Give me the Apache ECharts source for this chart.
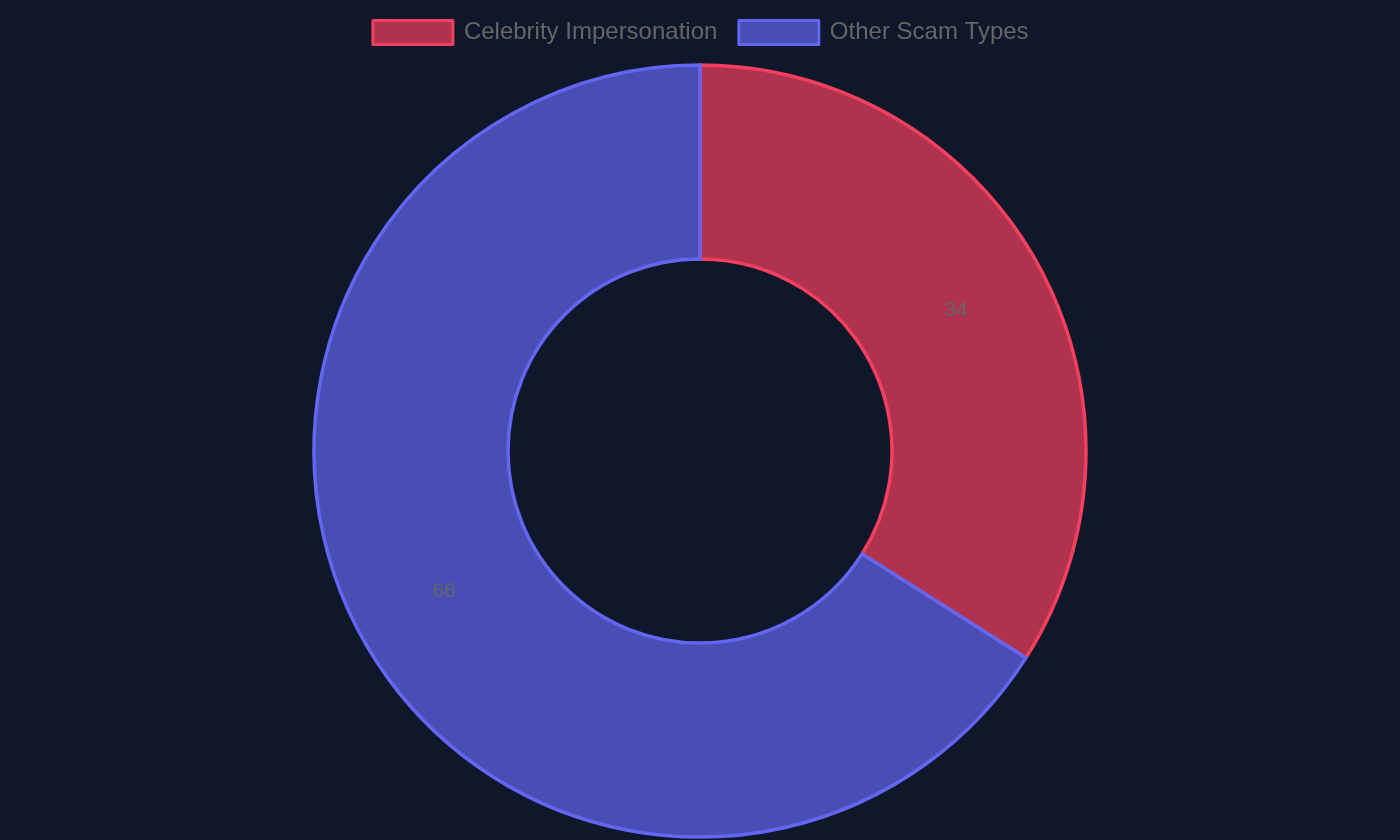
<!DOCTYPE html>
<html>
<head>
<meta charset="utf-8">
<script src="https://cdn.jsdelivr.net/npm/echarts@6/dist/echarts.min.js"></script>
<style>
html,body{margin:0;padding:0;background:#0f172a;}
#chart{width:1400px;height:840px;}
</style>
</head>
<body>
<div id="chart"></div>
<script>
const categories = ["Celebrity Impersonation", "Other Scam Types"];
const values = [34, 66];
const borderColors = ["#f43f5e", "#6366f1"];
const fillColors = ["rgba(244,63,94,0.7)", "rgba(99,102,241,0.7)"];

const chart = echarts.init(document.getElementById('chart'));
chart.setOption({
  backgroundColor: '#0f172a',
  animation: false,
  legend: {
    top: 14,
    left: 'center',
    itemWidth: 80,
    itemHeight: 24,
    itemGap: 20,
    icon: 'rect',
    textStyle: { color: '#666', fontSize: 24, fontFamily: 'Liberation Sans, Arial, sans-serif', padding: [0, 0, 0, 6] },
    data: categories.map((c, i) => ({
      name: c,
      itemStyle: { color: fillColors[i], borderColor: borderColors[i], borderWidth: 3 }
    }))
  },
  series: [{
    type: 'pie',
    center: [700, 451],
    radius: [192, 386],
    startAngle: 90,
    clockwise: true,
    avoidLabelOverlap: false,
    label: {
      show: true,
      position: 'inside',
      color: '#666',
      fontSize: 21,
      fontFamily: 'Liberation Sans, Arial, sans-serif',
      formatter: '{c}'
    },
    labelLine: { show: false },
    emphasis: { disabled: true },
    data: categories.map((c, i) => ({
      name: c,
      value: values[i],
      itemStyle: { color: fillColors[i], borderColor: borderColors[i], borderWidth: 3.5 }
    }))
  }]
});
</script>
</body>
</html>
